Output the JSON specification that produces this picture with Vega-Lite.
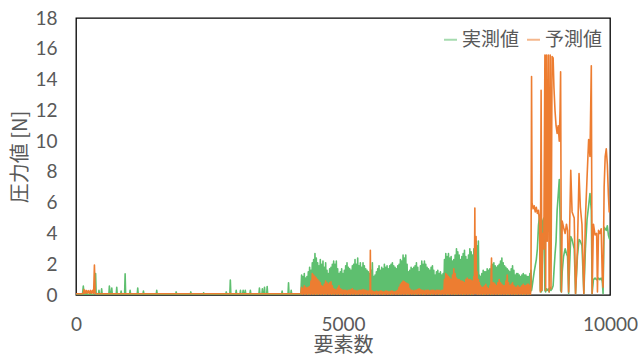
{
  "$schema": "https://vega.github.io/schema/vega-lite/v6.json",
  "width": 534,
  "height": 277,
  "autosize": {"type": "none"},
  "padding": {"left": 76, "top": 18, "right": 28, "bottom": 61},
  "background": "#ffffff",
  "config": {
    "view": {"stroke": "#000000", "strokeWidth": 1.3},
    "axis": {"domain": false, "ticks": false, "grid": false, "labelColor": "#595959", "titleColor": "#595959", "labelFont": "Lato", "labelFontSize": 19, "titleFont": "Noto Sans CJK JP", "titleFontSize": 20, "titleFontWeight": "normal", "labelOverlap": false, "labelFlush": false},
    "legend": {"labelFont": "Noto Sans CJK JP", "labelFontSize": 19, "labelColor": "#595959"}
  },
  "data": {"values": [
{"x":0,"a":0,"p":0.08},{"x":120,"a":0,"p":0.08},{"x":137,"a":0.58,"p":0.1},{"x":150,"a":0.05,"p":0.35},{"x":170,"a":0.02,"p":0.1},{"x":190,"a":0.1,"p":0.3},{"x":210,"a":0.05,"p":0.12},{"x":230,"a":0.05,"p":0.28},{"x":250,"a":0.02,"p":0.1},{"x":270,"a":0.1,"p":0.3},{"x":290,"a":0.02,"p":0.1},{"x":310,"a":0.05,"p":0.3},{"x":330,"a":0.05,"p":0.1},{"x":345,"a":0.2,"p":1.95},{"x":358,"a":0.3,"p":0.2},{"x":367,"a":1.4,"p":0.1},{"x":378,"a":0.02,"p":0.08},
{"x":420,"a":0.02,"p":0.08},{"x":430,"a":0.3,"p":0.08},{"x":440,"a":0.02,"p":0.08},{"x":470,"a":0.02,"p":0.08},{"x":480,"a":0.4,"p":0.08},{"x":490,"a":0.02,"p":0.08},{"x":615,"a":0.02,"p":0.08},{"x":625,"a":0.58,"p":0.08},{"x":640,"a":0.05,"p":0.08},{"x":660,"a":0.05,"p":0.08},{"x":670,"a":0.45,"p":0.08},{"x":680,"a":0.02,"p":0.08},{"x":753,"a":0.02,"p":0.08},{"x":763,"a":0.5,"p":0.08},{"x":773,"a":0.02,"p":0.08},{"x":835,"a":0.02,"p":0.08},{"x":845,"a":0.25,"p":0.08},{"x":855,"a":0.02,"p":0.08},{"x":910,"a":0.02,"p":0.08},{"x":920,"a":1.37,"p":0.08},{"x":930,"a":0.02,"p":0.08},{"x":1003,"a":0.02,"p":0.08},{"x":1013,"a":0.3,"p":0.08},{"x":1023,"a":0.02,"p":0.08},{"x":1146,"a":0.02,"p":0.08},{"x":1156,"a":0.45,"p":0.08},{"x":1166,"a":0.02,"p":0.08},{"x":1253,"a":0.02,"p":0.08},{"x":1263,"a":0.25,"p":0.08},{"x":1273,"a":0.02,"p":0.08},{"x":1502,"a":0.02,"p":0.08},{"x":1512,"a":0.3,"p":0.08},{"x":1522,"a":0.02,"p":0.08},{"x":1866,"a":0.02,"p":0.08},{"x":1876,"a":0.2,"p":0.08},{"x":1886,"a":0.02,"p":0.08},{"x":2140,"a":0.02,"p":0.08},{"x":2150,"a":0.2,"p":0.08},{"x":2160,"a":0.02,"p":0.08},{"x":2380,"a":0.02,"p":0.08},{"x":2390,"a":0.15,"p":0.08},{"x":2400,"a":0.02,"p":0.08},{"x":2804,"a":0.02,"p":0.08},{"x":2814,"a":0.2,"p":0.08},{"x":2824,"a":0.02,"p":0.08},{"x":2880,"a":0.02,"p":0.08},{"x":2890,"a":0.97,"p":0.1},{"x":2900,"a":0.02,"p":0.08},{"x":2990,"a":0.02,"p":0.08},{"x":3000,"a":0.3,"p":0.08},{"x":3010,"a":0.02,"p":0.08},{"x":3070,"a":0.02,"p":0.08},{"x":3080,"a":0.3,"p":0.08},{"x":3090,"a":0.02,"p":0.08},{"x":3120,"a":0.02,"p":0.08},{"x":3130,"a":0.3,"p":0.08},{"x":3140,"a":0.02,"p":0.08},{"x":3160,"a":0.02,"p":0.08},{"x":3170,"a":0.3,"p":0.08},{"x":3180,"a":0.02,"p":0.08},{"x":3255,"a":0.02,"p":0.08},{"x":3265,"a":0.3,"p":0.08},{"x":3275,"a":0.02,"p":0.08},{"x":3425,"a":0.02,"p":0.08},{"x":3435,"a":0.45,"p":0.08},{"x":3445,"a":0.02,"p":0.08},{"x":3480,"a":0.02,"p":0.08},{"x":3490,"a":0.4,"p":0.08},{"x":3500,"a":0.02,"p":0.08},{"x":3520,"a":0.02,"p":0.08},{"x":3530,"a":0.5,"p":0.08},{"x":3540,"a":0.02,"p":0.08},{"x":3570,"a":0.02,"p":0.08},{"x":3580,"a":0.55,"p":0.08},{"x":3590,"a":0.02,"p":0.08},{"x":3850,"a":0.02,"p":0.08},{"x":3860,"a":0.25,"p":0.08},{"x":3870,"a":0.02,"p":0.08},{"x":3970,"a":0.02,"p":0.08},{"x":3980,"a":0.8,"p":0.08},{"x":3990,"a":0.02,"p":0.08},{"x":4020,"a":0.02,"p":0.08},{"x":4030,"a":0.3,"p":0.08},{"x":4040,"a":0.02,"p":0.08},{"x":4210,"a":0.02,"p":0.08},
{"x":4225,"a":1.3,"p":0.5},{"x":4237,"a":0.1,"p":0.05},{"x":4250,"a":1.2,"p":0.4},{"x":4262,"a":0.2,"p":0.1},{"x":4275,"a":1.4,"p":0.6},{"x":4287,"a":0.05,"p":0.05},{"x":4300,"a":1.1,"p":0.5},{"x":4312,"a":0.1,"p":0.1},{"x":4325,"a":1.2,"p":0.45},{"x":4337,"a":0.2,"p":0.05},{"x":4350,"a":1.5,"p":0.5},{"x":4362,"a":0.05,"p":0.1},{"x":4375,"a":1.8,"p":0.55},{"x":4387,"a":0.1,"p":0.05},{"x":4400,"a":1.6,"p":0.9},{"x":4412,"a":0.2,"p":0.1},{"x":4425,"a":2.1,"p":1.4},{"x":4437,"a":0.05,"p":0.05},{"x":4450,"a":2.3,"p":1.3},{"x":4462,"a":0.1,"p":0.1},{"x":4475,"a":2.7,"p":1.2},{"x":4487,"a":0.2,"p":0.05},{"x":4500,"a":2.4,"p":1.1},{"x":4512,"a":0.05,"p":0.1},{"x":4525,"a":2.1,"p":1.0},{"x":4537,"a":0.1,"p":0.05},{"x":4550,"a":1.9,"p":0.9},{"x":4562,"a":0.2,"p":0.1},{"x":4575,"a":2.3,"p":0.8},{"x":4587,"a":0.05,"p":0.05},{"x":4600,"a":2.0,"p":0.6},{"x":4612,"a":0.1,"p":0.1},{"x":4625,"a":2.2,"p":0.55},{"x":4637,"a":0.2,"p":0.05},{"x":4650,"a":1.8,"p":0.7},{"x":4662,"a":0.05,"p":0.1},{"x":4675,"a":2.1,"p":0.9},{"x":4687,"a":0.1,"p":0.05},{"x":4700,"a":1.6,"p":0.8},{"x":4712,"a":0.2,"p":0.1},{"x":4725,"a":1.4,"p":0.7},{"x":4737,"a":0.05,"p":0.05},{"x":4750,"a":1.7,"p":0.8},{"x":4762,"a":0.1,"p":0.1},{"x":4775,"a":1.8,"p":0.85},{"x":4787,"a":0.2,"p":0.05},{"x":4800,"a":2.0,"p":0.6},{"x":4812,"a":0.05,"p":0.1},{"x":4825,"a":2.2,"p":0.4},{"x":4837,"a":0.1,"p":0.05},{"x":4850,"a":2.0,"p":0.35},{"x":4862,"a":0.2,"p":0.1},{"x":4875,"a":2.2,"p":0.3},{"x":4887,"a":0.05,"p":0.05},{"x":4900,"a":1.7,"p":0.45},{"x":4912,"a":0.1,"p":0.1},{"x":4925,"a":1.4,"p":0.6},{"x":4937,"a":0.2,"p":0.05},{"x":4950,"a":1.5,"p":0.4},{"x":4962,"a":0.05,"p":0.1},{"x":4975,"a":1.7,"p":0.35},{"x":4987,"a":0.1,"p":0.05},{"x":5000,"a":1.4,"p":0.3},{"x":5012,"a":0.2,"p":0.1},{"x":5025,"a":1.6,"p":0.3},{"x":5037,"a":0.05,"p":0.05},{"x":5050,"a":1.9,"p":0.3},{"x":5062,"a":0.1,"p":0.1},{"x":5075,"a":2.1,"p":0.25},{"x":5087,"a":0.2,"p":0.05},{"x":5100,"a":1.8,"p":0.3},{"x":5112,"a":0.05,"p":0.1},{"x":5125,"a":1.7,"p":0.3},{"x":5137,"a":0.1,"p":0.05},{"x":5150,"a":1.6,"p":0.35},{"x":5162,"a":0.2,"p":0.1},{"x":5175,"a":1.9,"p":0.4},{"x":5187,"a":0.05,"p":0.05},{"x":5200,"a":2.0,"p":0.3},{"x":5212,"a":0.1,"p":0.1},{"x":5225,"a":2.3,"p":0.3},{"x":5237,"a":0.2,"p":0.05},{"x":5250,"a":2.0,"p":0.25},{"x":5262,"a":0.05,"p":0.1},{"x":5275,"a":2.4,"p":0.25},{"x":5287,"a":0.1,"p":0.05},{"x":5300,"a":1.9,"p":0.3},{"x":5312,"a":0.2,"p":0.1},{"x":5325,"a":2.1,"p":0.3},{"x":5337,"a":0.05,"p":0.05},{"x":5350,"a":1.8,"p":0.3},{"x":5362,"a":0.1,"p":0.1},{"x":5375,"a":2.1,"p":0.35},{"x":5387,"a":0.2,"p":0.05},{"x":5400,"a":1.9,"p":0.3},{"x":5412,"a":0.05,"p":0.1},{"x":5425,"a":1.7,"p":0.3},{"x":5437,"a":0.1,"p":0.05},{"x":5450,"a":1.6,"p":0.25},{"x":5462,"a":0.2,"p":0.1},{"x":5475,"a":1.5,"p":0.25},{"x":5487,"a":0.05,"p":0.05},{"x":5500,"a":1.4,"p":0.3},{"x":5506,"a":0.1,"p":0.1},{"x":5512,"a":1.3,"p":2.9},{"x":5518,"a":0.2,"p":0.1},{"x":5525,"a":1.6,"p":0.3},{"x":5537,"a":0.05,"p":0.05},{"x":5550,"a":2.1,"p":0.25},{"x":5562,"a":0.1,"p":0.1},{"x":5575,"a":1.2,"p":0.2},{"x":5587,"a":0.2,"p":0.05},{"x":5600,"a":1.3,"p":0.2},{"x":5612,"a":0.05,"p":0.1},{"x":5625,"a":1.5,"p":0.25},{"x":5637,"a":0.1,"p":0.05},{"x":5650,"a":1.7,"p":0.2},{"x":5662,"a":0.2,"p":0.1},{"x":5675,"a":1.9,"p":0.2},{"x":5687,"a":0.05,"p":0.05},{"x":5700,"a":1.6,"p":0.25},{"x":5712,"a":0.1,"p":0.1},{"x":5725,"a":1.8,"p":0.25},{"x":5737,"a":0.2,"p":0.05},{"x":5750,"a":1.7,"p":0.2},{"x":5762,"a":0.05,"p":0.1},{"x":5775,"a":2.0,"p":0.2},{"x":5787,"a":0.1,"p":0.05},{"x":5800,"a":1.8,"p":0.25},{"x":5812,"a":0.2,"p":0.1},{"x":5825,"a":1.9,"p":0.25},{"x":5837,"a":0.05,"p":0.05},{"x":5850,"a":1.7,"p":0.2},{"x":5862,"a":0.1,"p":0.1},{"x":5875,"a":1.9,"p":0.2},{"x":5887,"a":0.2,"p":0.05},{"x":5900,"a":2.0,"p":0.25},{"x":5912,"a":0.05,"p":0.1},{"x":5925,"a":2.1,"p":0.25},{"x":5937,"a":0.1,"p":0.05},{"x":5950,"a":1.9,"p":0.2},{"x":5962,"a":0.2,"p":0.1},{"x":5975,"a":1.8,"p":0.2},{"x":5987,"a":0.05,"p":0.05},{"x":6000,"a":1.7,"p":0.25},{"x":6012,"a":0.1,"p":0.1},{"x":6025,"a":1.9,"p":0.3},{"x":6037,"a":0.2,"p":0.05},{"x":6050,"a":2.0,"p":0.5},{"x":6062,"a":0.05,"p":0.1},{"x":6075,"a":2.3,"p":0.7},{"x":6087,"a":0.1,"p":0.05},{"x":6100,"a":2.2,"p":0.8},{"x":6112,"a":0.2,"p":0.1},{"x":6125,"a":2.6,"p":0.9},{"x":6137,"a":0.05,"p":0.05},{"x":6150,"a":2.4,"p":0.85},{"x":6162,"a":0.1,"p":0.1},{"x":6175,"a":2.6,"p":0.8},{"x":6187,"a":0.2,"p":0.05},{"x":6200,"a":2.0,"p":0.75},{"x":6212,"a":0.05,"p":0.1},{"x":6225,"a":1.5,"p":0.7},{"x":6237,"a":0.1,"p":0.05},{"x":6250,"a":1.6,"p":0.4},{"x":6262,"a":0.2,"p":0.1},{"x":6275,"a":1.8,"p":0.3},{"x":6287,"a":0.05,"p":0.05},{"x":6300,"a":1.7,"p":0.3},{"x":6312,"a":0.1,"p":0.1},{"x":6325,"a":1.8,"p":0.25},{"x":6337,"a":0.2,"p":0.05},{"x":6350,"a":1.9,"p":0.3},{"x":6362,"a":0.05,"p":0.1},{"x":6375,"a":2.1,"p":0.3},{"x":6387,"a":0.1,"p":0.05},{"x":6400,"a":1.8,"p":0.35},{"x":6412,"a":0.2,"p":0.1},{"x":6425,"a":1.5,"p":0.4},{"x":6437,"a":0.05,"p":0.05},{"x":6450,"a":1.9,"p":0.35},{"x":6462,"a":0.1,"p":0.1},{"x":6475,"a":2.2,"p":0.3},{"x":6487,"a":0.2,"p":0.05},{"x":6500,"a":2.0,"p":0.3},{"x":6512,"a":0.05,"p":0.1},{"x":6525,"a":2.2,"p":0.25},{"x":6537,"a":0.1,"p":0.05},{"x":6550,"a":2.0,"p":0.3},{"x":6562,"a":0.2,"p":0.1},{"x":6575,"a":1.8,"p":0.3},{"x":6587,"a":0.05,"p":0.05},{"x":6600,"a":1.7,"p":0.3},{"x":6612,"a":0.1,"p":0.1},{"x":6625,"a":1.6,"p":0.25},{"x":6637,"a":0.2,"p":0.05},{"x":6650,"a":1.8,"p":0.3},{"x":6662,"a":0.05,"p":0.1},{"x":6675,"a":1.9,"p":0.3},{"x":6687,"a":0.1,"p":0.05},{"x":6700,"a":1.6,"p":0.3},{"x":6712,"a":0.2,"p":0.1},{"x":6725,"a":1.3,"p":0.25},{"x":6737,"a":0.05,"p":0.05},{"x":6750,"a":1.5,"p":0.3},{"x":6762,"a":0.1,"p":0.1},{"x":6775,"a":1.6,"p":0.3},{"x":6787,"a":0.2,"p":0.05},{"x":6800,"a":1.4,"p":0.3},{"x":6812,"a":0.05,"p":0.1},{"x":6825,"a":1.5,"p":0.25},{"x":6837,"a":0.1,"p":0.05},{"x":6850,"a":1.3,"p":0.3},{"x":6862,"a":0.2,"p":0.1},{"x":6875,"a":1.4,"p":0.3},{"x":6887,"a":0.05,"p":0.05},{"x":6900,"a":2.3,"p":1.0},{"x":6912,"a":0.1,"p":0.1},{"x":6925,"a":2.7,"p":1.4},{"x":6937,"a":0.2,"p":0.05},{"x":6950,"a":2.5,"p":1.3},{"x":6962,"a":0.05,"p":0.1},{"x":6975,"a":2.7,"p":1.2},{"x":6987,"a":0.1,"p":0.05},{"x":7000,"a":2.4,"p":1.1},{"x":7012,"a":0.2,"p":0.1},{"x":7025,"a":2.5,"p":1.0},{"x":7037,"a":0.05,"p":0.05},{"x":7050,"a":2.2,"p":1.3},{"x":7062,"a":0.1,"p":0.1},{"x":7075,"a":2.3,"p":1.7},{"x":7087,"a":0.2,"p":0.05},{"x":7100,"a":2.6,"p":1.4},{"x":7112,"a":0.05,"p":0.1},{"x":7125,"a":3.0,"p":1.1},{"x":7137,"a":0.1,"p":0.05},{"x":7150,"a":2.8,"p":1.0},{"x":7162,"a":0.2,"p":0.1},{"x":7175,"a":2.6,"p":1.0},{"x":7187,"a":0.05,"p":0.05},{"x":7200,"a":2.3,"p":0.9},{"x":7212,"a":0.1,"p":0.1},{"x":7225,"a":2.5,"p":0.9},{"x":7237,"a":0.2,"p":0.05},{"x":7250,"a":2.7,"p":0.85},{"x":7262,"a":0.05,"p":0.1},{"x":7275,"a":2.9,"p":0.8},{"x":7287,"a":0.1,"p":0.05},{"x":7300,"a":2.5,"p":1.0},{"x":7312,"a":0.2,"p":0.1},{"x":7325,"a":2.3,"p":1.1},{"x":7337,"a":0.05,"p":0.05},{"x":7350,"a":2.6,"p":1.0},{"x":7362,"a":0.1,"p":0.1},{"x":7375,"a":3.0,"p":1.0},{"x":7387,"a":0.2,"p":0.05},{"x":7400,"a":2.8,"p":0.95},{"x":7412,"a":0.05,"p":0.1},{"x":7425,"a":2.6,"p":0.9},{"x":7437,"a":0.1,"p":0.05},{"x":7450,"a":3.0,"p":1.2},{"x":7460,"a":0.2,"p":0.1},{"x":7469,"a":3.6,"p":5.65},{"x":7475,"a":0.3,"p":0.2},{"x":7480,"a":3.4,"p":3.0},{"x":7486,"a":0.2,"p":0.1},{"x":7492,"a":3.5,"p":3.8},{"x":7500,"a":0.1,"p":0.1},{"x":7510,"a":3.2,"p":1.5},{"x":7522,"a":0.2,"p":0.05},{"x":7535,"a":3.5,"p":1.0},{"x":7545,"a":0.1,"p":0.1},{"x":7555,"a":1.3,"p":0.8},{"x":7565,"a":0.05,"p":0.05},{"x":7575,"a":1.2,"p":0.6},{"x":7587,"a":0.1,"p":0.1},{"x":7600,"a":1.4,"p":0.5},{"x":7612,"a":0.2,"p":0.05},{"x":7625,"a":1.6,"p":0.5},{"x":7637,"a":0.05,"p":0.1},{"x":7650,"a":1.5,"p":0.6},{"x":7662,"a":0.1,"p":0.05},{"x":7675,"a":1.5,"p":0.7},{"x":7687,"a":0.2,"p":0.1},{"x":7700,"a":1.7,"p":0.5},{"x":7712,"a":0.05,"p":0.05},{"x":7725,"a":1.6,"p":0.4},{"x":7737,"a":0.1,"p":0.1},{"x":7750,"a":1.7,"p":0.6},{"x":7765,"a":0.2,"p":0.05},{"x":7781,"a":1.9,"p":2.4},{"x":7790,"a":0.05,"p":0.1},{"x":7800,"a":2.0,"p":0.8},{"x":7812,"a":0.1,"p":0.05},{"x":7825,"a":2.1,"p":0.8},{"x":7837,"a":0.2,"p":0.1},{"x":7850,"a":1.9,"p":0.7},{"x":7862,"a":0.05,"p":0.05},{"x":7875,"a":1.8,"p":0.6},{"x":7887,"a":0.1,"p":0.1},{"x":7900,"a":1.9,"p":0.8},{"x":7912,"a":0.2,"p":0.05},{"x":7925,"a":2.0,"p":1.0},{"x":7937,"a":0.05,"p":0.1},{"x":7950,"a":2.2,"p":0.8},{"x":7962,"a":0.1,"p":0.05},{"x":7975,"a":2.4,"p":0.7},{"x":7987,"a":0.2,"p":0.1},{"x":8000,"a":2.1,"p":0.6},{"x":8012,"a":0.05,"p":0.05},{"x":8025,"a":1.9,"p":0.6},{"x":8037,"a":0.1,"p":0.1},{"x":8050,"a":1.8,"p":0.9},{"x":8062,"a":0.2,"p":0.05},{"x":8075,"a":1.7,"p":1.3},{"x":8087,"a":0.05,"p":0.1},{"x":8100,"a":1.6,"p":0.8},{"x":8112,"a":0.1,"p":0.05},{"x":8125,"a":1.5,"p":0.6},{"x":8137,"a":0.2,"p":0.1},{"x":8150,"a":1.7,"p":0.7},{"x":8162,"a":0.05,"p":0.05},{"x":8175,"a":1.9,"p":0.8},{"x":8187,"a":0.1,"p":0.1},{"x":8200,"a":1.6,"p":0.6},{"x":8212,"a":0.2,"p":0.05},{"x":8225,"a":1.3,"p":0.5},{"x":8237,"a":0.05,"p":0.1},{"x":8250,"a":1.4,"p":0.5},{"x":8262,"a":0.1,"p":0.05},{"x":8275,"a":1.4,"p":0.6},{"x":8287,"a":0.2,"p":0.1},{"x":8300,"a":1.3,"p":0.5},{"x":8312,"a":0.05,"p":0.05},{"x":8325,"a":1.2,"p":0.5},{"x":8337,"a":0.1,"p":0.1},{"x":8350,"a":1.3,"p":0.6},{"x":8362,"a":0.2,"p":0.05},{"x":8375,"a":1.4,"p":0.7},{"x":8387,"a":0.05,"p":0.1},{"x":8400,"a":1.3,"p":0.6},{"x":8412,"a":0.1,"p":0.05},{"x":8425,"a":1.3,"p":0.6},{"x":8437,"a":0.2,"p":0.1},{"x":8450,"a":1.2,"p":0.7},{"x":8462,"a":0.05,"p":0.05},{"x":8475,"a":1.2,"p":0.7},{"x":8487,"a":0.1,"p":0.1},{"x":8500,"a":1.4,"p":0.6},{"x":8510,"a":0.2,"p":0.05},{"x":8520,"a":1.6,"p":0.5},
{"x":8531,"a":0.3,"p":14.2},{"x":8540,"a":0.5,"p":6.0},{"x":8560,"a":1.0,"p":5.6},{"x":8580,"a":1.5,"p":5.8},{"x":8600,"a":1.9,"p":5.4},{"x":8620,"a":2.3,"p":5.7},{"x":8640,"a":3.0,"p":5.3},{"x":8660,"a":4.5,"p":5.5},{"x":8680,"a":5.2,"p":4.8},{"x":8695,"a":0.3,"p":0.2},{"x":8710,"a":0.2,"p":13.3},{"x":8725,"a":0.3,"p":0.3},{"x":8740,"a":4.8,"p":4.0},{"x":8760,"a":5.0,"p":3.0},{"x":8781,"a":0.3,"p":15.6},{"x":8795,"a":0.2,"p":0.3},{"x":8810,"a":0.4,"p":15.6},{"x":8825,"a":0.3,"p":3.5},{"x":8845,"a":0.4,"p":15.6},{"x":8860,"a":0.2,"p":0.2},{"x":8880,"a":0.5,"p":15.6},{"x":8895,"a":0.3,"p":0.4},{"x":8915,"a":0.4,"p":15.5},{"x":8935,"a":0.6,"p":15.4},{"x":8950,"a":1.5,"p":13.5},{"x":8970,"a":2.6,"p":12.0},{"x":8990,"a":3.5,"p":11.0},{"x":9010,"a":5.5,"p":10.5},{"x":9030,"a":6.5,"p":11.0},{"x":9050,"a":7.5,"p":10.0},{"x":9065,"a":5.0,"p":12.0},{"x":9075,"a":0.3,"p":14.5},{"x":9090,"a":0.2,"p":0.2},{"x":9105,"a":1.5,"p":4.8},{"x":9130,"a":2.5,"p":4.4},{"x":9160,"a":3.0,"p":4.0},{"x":9185,"a":2.7,"p":4.6},{"x":9205,"a":2.5,"p":4.2},{"x":9225,"a":0.1,"p":0.2},{"x":9245,"a":2.0,"p":4.5},{"x":9265,"a":3.8,"p":8.1},{"x":9290,"a":3.6,"p":5.4},{"x":9330,"a":3.0,"p":5.0},{"x":9355,"a":0.1,"p":0.1},{"x":9390,"a":2.5,"p":3.0},{"x":9420,"a":3.6,"p":7.9},{"x":9445,"a":3.5,"p":5.7},{"x":9475,"a":3.2,"p":4.6},{"x":9510,"a":0.1,"p":0.1},{"x":9540,"a":3.0,"p":5.0},{"x":9570,"a":4.9,"p":7.6},{"x":9600,"a":5.8,"p":10.1},{"x":9625,"a":6.6,"p":9.0},{"x":9650,"a":5.5,"p":14.9},{"x":9665,"a":0.1,"p":0.1},{"x":9690,"a":1.0,"p":4.6},{"x":9720,"a":1.1,"p":3.9},{"x":9750,"a":1.0,"p":4.0},{"x":9765,"a":1.0,"p":0.2},{"x":9785,"a":1.1,"p":4.2},{"x":9810,"a":1.0,"p":4.0},{"x":9835,"a":1.1,"p":4.3},{"x":9855,"a":0.9,"p":1.2},{"x":9870,"a":0.1,"p":0.5},{"x":9890,"a":4.4,"p":7.0},{"x":9910,"a":4.3,"p":9.0},{"x":9930,"a":4.2,"p":9.5},{"x":9950,"a":4.5,"p":8.5},{"x":9970,"a":3.9,"p":6.5},{"x":9985,"a":3.7,"p":5.4},{"x":10000,"a":3.6,"p":5.6}
  ]},
  "encoding": {
    "x": {"field": "x", "type": "quantitative", "scale": {"domain": [0, 10000], "nice": false}, "axis": {"values": [0, 5000, 10000], "format": "d", "title": "要素数", "labelPadding": 20, "titlePadding": 1}}
  },
  "layer": [
    {
      "mark": {"type": "line", "strokeWidth": 1.6, "strokeJoin": "round", "clip": true},
      "encoding": {
        "y": {"field": "a", "type": "quantitative", "scale": {"domain": [0, 18], "nice": false}, "axis": {"values": [0, 2, 4, 6, 8, 10, 12, 14, 16, 18], "title": "圧力値 [N]", "labelPadding": 19, "titlePadding": 4}},
        "color": {"datum": "実測値", "type": "nominal", "scale": {"domain": ["実測値", "予測値"], "range": ["#5EBF6F", "#ED7D31"]}, "legend": {"title": null, "orient": "none", "legendX": 365, "legendY": 12, "direction": "horizontal", "symbolType": "stroke", "symbolSize": 170, "symbolStrokeWidth": 2, "symbolOpacity": 0.55, "labelOffset": 2, "columnPadding": 2, "padding": 0}}
      }
    },
    {
      "mark": {"type": "line", "strokeWidth": 1.6, "strokeJoin": "round", "clip": true},
      "encoding": {
        "y": {"field": "p", "type": "quantitative", "axis": {"values": [0, 2, 4, 6, 8, 10, 12, 14, 16, 18], "title": "圧力値 [N]", "labelPadding": 19, "titlePadding": 4}},
        "color": {"datum": "予測値", "type": "nominal"}
      }
    }
  ]
}
